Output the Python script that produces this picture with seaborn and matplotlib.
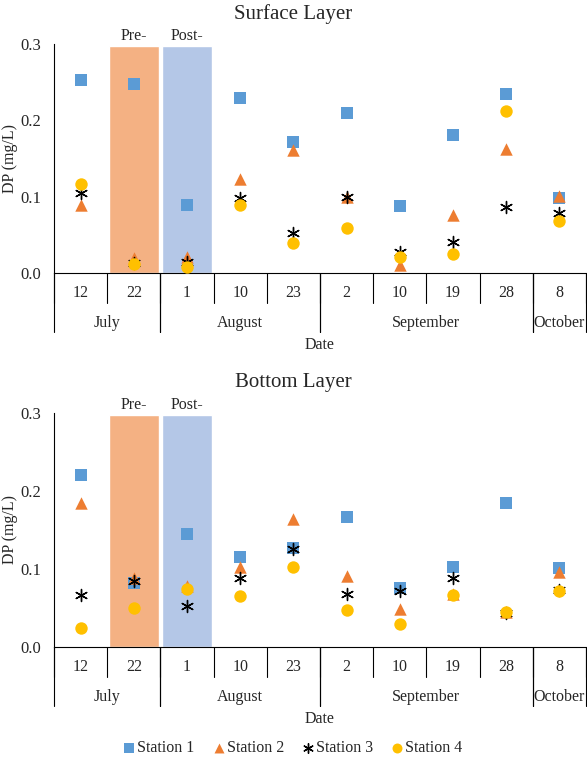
import numpy as np
import pandas as pd
import matplotlib
matplotlib.use("Agg")
import matplotlib.pyplot as plt
import seaborn as sns

# sampling dates (categorical axis)
days = ["12", "22", "1", "10", "23", "2", "10", "19", "28", "8"]
months = ["July", "August", "September", "October"]
month_spans = [(0, 1), (2, 4), (5, 8), (9, 9)]   # first/last day index of each month
stations = ["Station 1", "Station 2", "Station 3", "Station 4"]

# dissolved phosphorus, surface layer (mg/L)
surf_s1 = [0.253, 0.248, 0.089, 0.229, 0.172, 0.210, 0.088, 0.181, 0.235, 0.098]
surf_s2 = [0.089, 0.020, 0.021, 0.123, 0.161, 0.100, 0.011, 0.076, 0.163, 0.101]
surf_s3 = [0.105, 0.013, 0.015, 0.098, 0.052, 0.100, 0.028, 0.041, 0.087, 0.079]
surf_s4 = [0.116, 0.012, 0.008, 0.089, 0.039, 0.059, 0.021, 0.025, 0.212, 0.068]

# dissolved phosphorus, bottom layer (mg/L)
bot_s1 = [0.221, 0.082, 0.145, 0.115, 0.127, 0.167, 0.076, 0.102, 0.184, 0.101]
bot_s2 = [0.185, 0.089, 0.078, 0.103, 0.164, 0.091, 0.049, 0.068, 0.045, 0.096]
bot_s3 = [0.067, 0.085, 0.053, 0.089, 0.126, 0.068, 0.072, 0.088, 0.044, 0.073]
bot_s4 = [0.024, 0.050, 0.075, 0.065, 0.103, 0.047, 0.029, 0.067, 0.045, 0.072]

# pre-/post- event shading (day index, label)
shade_idx = [1, 2]
shade_labels = ["Pre-", "Post-"]
shade_top = [0.297, 0.297]

colors = {"Station 1": "#5B9BD5", "Station 2": "#ED7D31",
          "Station 3": "black", "Station 4": "#FFC000"}
markers = {"Station 1": "s", "Station 2": "^",
           "Station 3": (6, 2, 0), "Station 4": "o"}
shade_colors = ["#F4B183", "#B4C7E7"]

FS = 11.5


def long_table(vals):
    rows = []
    for st, v in zip(stations, vals):
        for i, y in enumerate(v):
            rows.append({"pos": i, "day": days[i], "DP": y, "Station": st})
    return pd.DataFrame(rows)


df_surf = long_table([surf_s1, surf_s2, surf_s3, surf_s4])
df_bot = long_table([bot_s1, bot_s2, bot_s3, bot_s4])

sns.set_theme(style="white")
plt.rcParams["font.family"] = ["Liberation Serif", "DejaVu Serif"]
plt.rcParams["font.size"] = FS

DPI = 100
fig = plt.figure(figsize=(5.87, 7.58), dpi=DPI)
W, H = 587, 758


def px_axes(top, bottom, left=54, right=586):
    return fig.add_axes([left / W, 1 - bottom / H, (right - left) / W, (bottom - top) / H])


ax_top = px_axes(44, 273)
ax_bot = px_axes(413, 647)


def draw_panel(ax, df, title, title_y):
    ax.bar(shade_idx, shade_top, width=0.94, color=shade_colors, zorder=1)
    for i, lab in zip(shade_idx, shade_labels):
        ax.text(i, 0.3, lab, ha="center", va="bottom", fontsize=FS)

    for st in stations:
        sub = df[df["Station"] == st]
        m = markers[st]
        if st == "Station 3":
            sns.scatterplot(data=sub, x="pos", y="DP", ax=ax, marker=m, s=75,
                            color=colors[st], linewidth=1.0, label=st, zorder=3)
        else:
            sns.scatterplot(data=sub, x="pos", y="DP", ax=ax, marker=m, s=80,
                            color=colors[st], linewidth=0, label=st, zorder=3)
    ax.get_legend().remove()

    ax.set_xlim(-0.5, 9.5)
    ax.set_ylim(0, 0.3)
    ax.set_yticks([0.0, 0.1, 0.2, 0.3])
    ax.set_yticklabels(["0.0", "0.1", "0.2", "0.3"], fontsize=FS + 0.5)
    ax.tick_params(axis="y", direction="out", length=4, width=0.8, color="black", pad=5)
    ax.set_xticks([])
    ax.set_xlabel("")
    ax.set_ylabel("DP (mg/L)", fontsize=FS)
    w_px = ax.get_position().width * W
    ax.yaxis.set_label_coords(-36 / w_px, 0.5)
    for sp in ["top", "right"]:
        ax.spines[sp].set_visible(False)
    ax.spines["left"].set_color("black")
    ax.spines["bottom"].set_color("black")
    ax.spines["left"].set_linewidth(0.8)
    ax.spines["bottom"].set_linewidth(0.8)

    h_px = ax.get_position().height * H
    f = lambda px: -px / h_px
    tr = ax.get_xaxis_transform()

    # day row
    for i, d in enumerate(days):
        ax.text(i, f(20), d, transform=tr, ha="center", va="center", fontsize=FS)
    for b in np.arange(-0.5, 10, 1.0):
        ax.plot([b, b], [0, f(30)], transform=tr, color="black", lw=0.8, clip_on=False)
    # month row
    for name, (a, b) in zip(months, month_spans):
        ax.text((a + b) / 2, f(50), name, transform=tr, ha="center", va="center",
                fontsize=FS)
        for edge in (a - 0.5, b + 0.5):
            ax.plot([edge, edge], [0, f(59)], transform=tr, color="black", lw=0.8,
                    clip_on=False)
    ax.text(4.5, f(72), "Date", transform=tr, ha="center", va="center", fontsize=FS)

    fig.text(0.5, 1 - title_y / H, title, ha="center", va="center", fontsize=15)


draw_panel(ax_top, df_surf, "Surface Layer", 14)
draw_panel(ax_bot, df_bot, "Bottom Layer", 382)

handles, labels = ax_top.get_legend_handles_labels()
fig.legend(handles[:4], labels[:4], loc="center", bbox_to_anchor=(0.497, 1 - 748 / H),
           ncol=4, frameon=False, fontsize=FS, handletextpad=0.0,
           columnspacing=1.0, handlelength=1.0, markerscale=0.8,
           borderpad=0.0)

fig.savefig("out.png", dpi=DPI)
